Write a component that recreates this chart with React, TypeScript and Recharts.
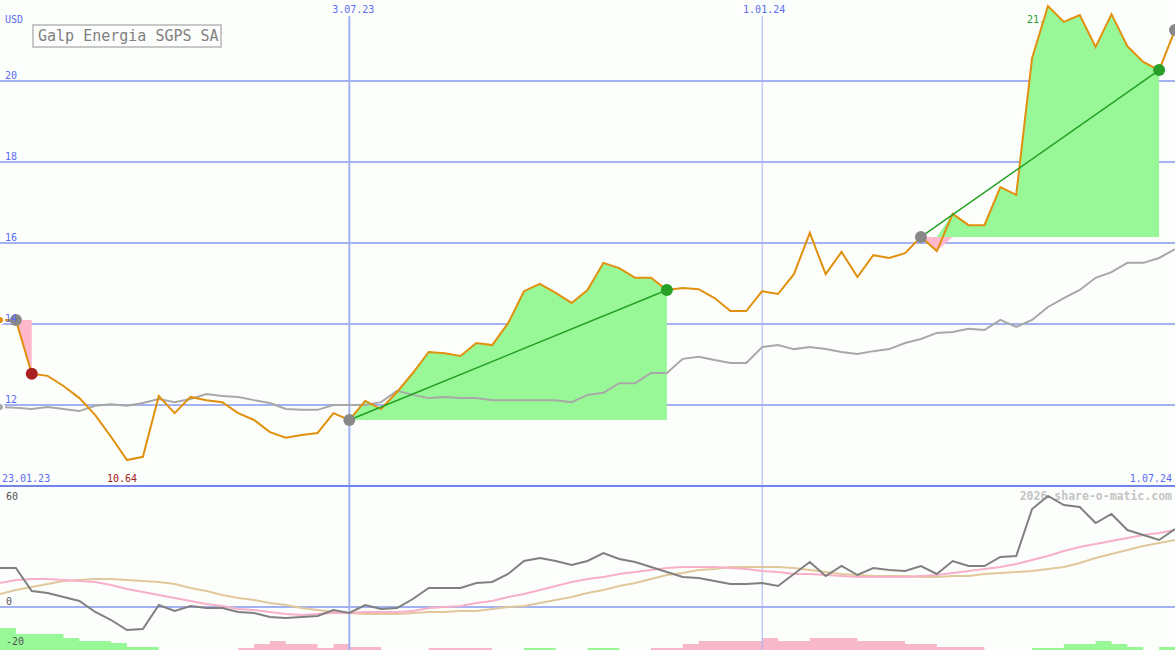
import React from 'react';
import { ComposedChart, Line, Area, XAxis, YAxis, CartesianGrid, ReferenceLine } from 'recharts';

const MONO = '"DejaVu Sans Mono", monospace';

// weekly closes, 23.01.23 .. 1.07.24
const price = [
  14.10, 14.10, 12.77, 12.72, 12.47, 12.17, 11.75, 11.21, 10.64, 10.72,
  12.22, 11.80, 12.20, 12.12, 12.07, 11.80, 11.63, 11.33, 11.19, 11.26,
  11.31, 11.80, 11.63, 12.10, 11.90, 12.32, 12.79, 13.31, 13.28, 13.21,
  13.53, 13.48, 14.02, 14.81, 14.99, 14.77, 14.52, 14.84, 15.51, 15.38,
  15.14, 15.14, 14.84, 14.89, 14.86, 14.64, 14.32, 14.32, 14.81, 14.74,
  15.23, 16.25, 15.23, 15.78, 15.16, 15.70, 15.63, 15.75, 16.15, 15.80,
  16.72, 16.44, 16.44, 17.38, 17.19, 20.57, 21.85, 21.46, 21.63, 20.84,
  21.65, 20.86, 20.47, 20.27, 21.26,
];

const movingAvg = [
  11.95, 11.93, 11.90, 11.95, 11.90, 11.85, 11.98, 12.02, 11.98, 12.05,
  12.15, 12.07, 12.15, 12.27, 12.22, 12.20, 12.12, 12.05, 11.90, 11.88,
  11.88, 12.00, 12.00, 12.00, 12.07, 12.35, 12.25, 12.17, 12.20, 12.17,
  12.17, 12.12, 12.12, 12.12, 12.12, 12.12, 12.07, 12.25, 12.30, 12.54,
  12.54, 12.79, 12.79, 13.14, 13.19, 13.11, 13.04, 13.04, 13.43, 13.48,
  13.38, 13.43, 13.38, 13.31, 13.26, 13.33, 13.38, 13.53, 13.63, 13.78,
  13.80, 13.88, 13.85, 14.10, 13.93, 14.10, 14.42, 14.64, 14.84, 15.14,
  15.28, 15.51, 15.51, 15.63, 15.85,
];

const oscillator = [
  19.5, 19.5, 8.0, 7.0, 5.0, 3.0, -2.5, -6.5, -11.5, -11.0,
  1.0, -2.0, 0.5, -0.5, -0.5, -2.5, -3.0, -5.0, -5.5, -5.0,
  -4.5, -1.5, -3.0, 1.0, -1.0, -0.5, 4.0, 9.5, 9.5, 9.5,
  12.0, 12.5, 16.5, 23.0, 24.5, 23.0, 21.0, 23.0, 27.0, 24.0,
  22.5, 20.0, 17.5, 15.0, 14.5, 13.0, 11.5, 11.5, 12.0, 10.5,
  16.5, 22.5, 15.5, 20.5, 16.0, 19.5, 18.5, 18.0, 20.5, 16.5,
  23.0, 20.5, 20.5, 25.0, 25.5, 49.0, 55.5, 51.0, 50.0, 42.0,
  46.5, 38.5, 36.0, 33.5, 39.0,
];

const signalLine = [
  12.0, 13.5, 14.0, 14.0, 13.5, 13.0, 12.5, 11.0, 9.0, 7.5,
  6.0, 4.5, 3.0, 1.5, 0.5, -1.0, -1.5, -2.5, -3.5, -4.0,
  -3.5, -3.0, -3.0, -2.5, -2.5, -2.5, -2.0, -0.5, 0, 0.5,
  2.0, 3.0, 5.0, 6.5, 8.5, 10.5, 12.5, 14.0, 15.0, 16.5,
  17.5, 18.5, 19.5, 20.0, 20.0, 20.0, 19.5, 19.0, 18.0, 17.5,
  16.5, 16.5, 16.0, 15.5, 15.0, 15.0, 15.0, 15.0, 15.5, 16.0,
  17.0, 18.0, 19.0, 20.0, 21.5, 23.5, 25.5, 28.0, 30.0, 31.5,
  33.0, 34.5, 36.0, 37.0, 38.5,
];

const slowLine = [
  6.5, 8.5, 10.0, 11.5, 13.0, 13.5, 14.0, 14.0, 13.5, 13.0,
  12.5, 11.5, 9.5, 8.0, 6.0, 4.5, 3.5, 2.0, 1.0, -0.5,
  -1.5, -2.5, -3.0, -3.5, -3.5, -3.5, -3.0, -2.5, -2.5, -2.0,
  -2.0, -1.0, 0, 0.5, 2.0, 3.5, 5.0, 7.0, 8.5, 10.5,
  12.0, 14.0, 16.0, 17.0, 18.5, 19.0, 20.0, 20.0, 20.0, 20.0,
  19.5, 18.5, 17.5, 16.5, 16.0, 15.5, 15.5, 15.5, 15.0, 15.0,
  15.5, 15.5, 16.5, 17.0, 17.5, 18.0, 19.0, 20.0, 22.0, 24.5,
  26.5, 28.5, 30.5, 32.0, 33.5,
];

const histogram = [
  11, 8, 8, 8, 6, 4.5, 4.5, 3.5, 1.5, 1.5,
  0, 0, 0, 0, 0, -1, -3, -4.5, -3, -3,
  -1, -3, -1.5, -1.5, 0, 0, 0, -1, -1, -1,
  -1, 0, 0, 1, 1, 0, 0, 1, 1, 0,
  0, -1, -1, -3, -4.5, -4.5, -4.5, -4.5, -6, -4.5,
  -4.5, -6, -6, -6, -4.5, -4.5, -4.5, -3, -3, -1.5,
  -1.5, -1.5, 0, 0, 0, 1, 1, 3, 3, 4.5,
  3, 1.5, 0, 1.5, 1.5,
];

const trades = [
  { buy: 1, sell: 2 },
  { buy: 22, sell: 42 },
  { buy: 58, sell: 73 },
];
const openBuy = 74;

const priceTicks = [12, 14, 16, 18, 20];
const oscTicks = [-20, 0, 60];
const dateMarks = [
  { i: 22, label: '3.07.23', width: 2, dx: 4 },
  { i: 48, label: '1.01.24', width: 1, dx: 2 },
];
const startLabel = '23.01.23';
const endLabel = '1.07.24';
const minLabel = '10.64';
const maxLabel = '21.85';

const data = price.map((p, i) => {
  const row: any = {
    i,
    price: p,
    ma: movingAvg[i],
    osc: oscillator[i],
    sig: signalLine[i],
    slow: slowLine[i],
    histUp: histogram[i] > 0 ? histogram[i] : 0,
    histDn: histogram[i] < 0 ? -histogram[i] : 0,
    gain: null,
    loss: null,
    mark: i === openBuy ? p : null,
  };
  trades.forEach((t, k) => {
    const base = price[t.buy];
    if (i >= t.buy && i <= t.sell) {
      row.gain = [base, Math.max(p, base)];
      row.loss = [Math.min(p, base), base];
    }
    if (i === t.buy || i === t.sell) {
      row.mark = p;
      if (price[t.sell] > base) row['trend' + k] = p;
    }
  });
  return row;
});

const markColor = (i: number) => {
  const t = trades.find((tr) => tr.sell === i);
  if (!t) return '#888888';
  return price[t.sell] > price[t.buy] ? '#28a028' : '#a82020';
};

const renderMark = (props: any) => {
  const { cx, cy, index, value } = props;
  if (value == null || cy == null) return <g key={'m' + index} />;
  return <circle key={'m' + index} cx={cx} cy={cy} r={6} fill={markColor(index)} />;
};

const PriceTick = (props: any) => (
  <text x={5} y={props.y - 2} fill="#5a6cf0" fontSize={10} fontFamily={MONO}>
    {props.payload.value}
  </text>
);

const OscTick = (props: any) => (
  <text x={6} y={Math.max(props.y - 2, 13)} fill="#555555" fontSize={10} fontFamily={MONO}>
    {props.payload.value}
  </text>
);

const label = (extra: React.CSSProperties): React.CSSProperties => ({
  position: 'absolute',
  fontFamily: MONO,
  fontSize: 10,
  lineHeight: '12px',
  whiteSpace: 'nowrap',
  ...extra,
});

export default function App() {
  return (
    <div style={{ position: 'absolute', left: 0, top: 0, width: 1175, height: 650, background: '#fcfefc', overflow: 'hidden' }}>
      <div style={label({ left: 5, top: 14, color: '#5a6cf0' })}>USD</div>
      <div style={label({ left: 2, top: 473, color: '#5a6cf0' })}>{startLabel}</div>
      <div style={label({ right: 3, top: 473, color: '#5a6cf0' })}>{endLabel}</div>
      <div style={label({ left: 107, top: 473, color: '#a02020' })}>{minLabel}</div>
      <div style={label({ left: 1027, top: 14, color: '#28a028' })}>{maxLabel}</div>
      <div style={label({ right: 3, top: 490, fontSize: 11.5, fontWeight: 'bold', color: '#c4c4c4' })}>
        2026 share-o-matic.com
      </div>
      <div
        style={{
          position: 'absolute', left: 32, top: 24, width: 182, height: 20,
          border: '2px solid #c8c8c8', fontFamily: MONO, fontSize: 15,
          lineHeight: '20px', color: '#808080', paddingLeft: 4, boxSizing: 'content-box',
          whiteSpace: 'nowrap',
        }}
      >
        Galp Energia SGPS SA
      </div>

      <div style={{ position: 'absolute', left: 0, top: 0 }}>
        <ComposedChart width={1175} height={488} data={data} margin={{ top: 0, right: 0, bottom: 2, left: 0 }}>
          <CartesianGrid vertical={false} horizontalValues={priceTicks} stroke="#a4b2f2" strokeWidth={2} />
          <XAxis type="number" dataKey="i" domain={[0, 74]} allowDataOverflow hide />
          <YAxis
            type="number"
            domain={[10, 22]}
            allowDataOverflow
            ticks={priceTicks}
            interval={0}
            mirror
            axisLine={false}
            tickLine={false}
            tick={PriceTick}
          />
          {dateMarks.map((m) => (
            <ReferenceLine
              key={m.label}
              segment={[{ x: m.i, y: 21.6 }, { x: m.i, y: 10 }]}
              stroke="#a4b2f2"
              strokeWidth={m.width}
              label={{ value: m.label, position: 'top', offset: 3, dx: m.dx, fill: '#5a6cf0', fontSize: 10, fontFamily: MONO }}
            />
          ))}
          <ReferenceLine y={10} stroke="#7484ee" strokeWidth={2} />
          <Area dataKey="gain" type="linear" stroke="none" fill="#98f898" fillOpacity={1} isAnimationActive={false} />
          <Area dataKey="loss" type="linear" stroke="none" fill="#ffb8cc" fillOpacity={1} isAnimationActive={false} />
          <Line dataKey="ma" type="linear" stroke="#a8a8a8" strokeWidth={2} dot={false} isAnimationActive={false} />
          <Line dataKey="mark" stroke="none" dot={renderMark} activeDot={false} isAnimationActive={false} />
          <Line dataKey="price" type="linear" stroke="#e0900c" strokeWidth={2} dot={false} isAnimationActive={false} />
          <Line dataKey="trend1" type="linear" stroke="#22a022" strokeWidth={1.5} dot={false} connectNulls isAnimationActive={false} />
          <Line dataKey="trend2" type="linear" stroke="#22a022" strokeWidth={1.5} dot={false} connectNulls isAnimationActive={false} />
        </ComposedChart>
      </div>

      <div style={{ position: 'absolute', left: 0, top: 487 }}>
        <ComposedChart width={1175} height={163} data={data} margin={{ top: 0, right: 0, bottom: 0, left: 0 }}>
          <CartesianGrid vertical={false} horizontalValues={[0]} yAxisId="v" stroke="#a4b2f2" strokeWidth={2} />
          <XAxis type="number" dataKey="i" domain={[0, 74]} allowDataOverflow hide />
          <YAxis
            yAxisId="v"
            type="number"
            domain={[-21.5, 60]}
            allowDataOverflow
            ticks={oscTicks}
            interval={0}
            mirror
            axisLine={false}
            tickLine={false}
            tick={OscTick}
          />
          <YAxis yAxisId="h" type="number" domain={[0, 81.5]} allowDataOverflow hide />
          {dateMarks.map((m) => (
            <ReferenceLine key={m.label} yAxisId="v" x={m.i} stroke="#a4b2f2" strokeWidth={m.width} />
          ))}
          <Area yAxisId="h" dataKey="histUp" type="stepAfter" stroke="none" fill="#98f898" fillOpacity={1} isAnimationActive={false} />
          <Area yAxisId="h" dataKey="histDn" type="stepAfter" stroke="none" fill="#f8b8cc" fillOpacity={1} isAnimationActive={false} />
          <Line yAxisId="v" dataKey="slow" type="linear" stroke="#e0c89c" strokeWidth={2} dot={false} isAnimationActive={false} />
          <Line yAxisId="v" dataKey="sig" type="linear" stroke="#f8b0c8" strokeWidth={2} dot={false} isAnimationActive={false} />
          <Line yAxisId="v" dataKey="osc" type="linear" stroke="#808080" strokeWidth={2} dot={false} isAnimationActive={false} />
        </ComposedChart>
      </div>
    </div>
  );
}
